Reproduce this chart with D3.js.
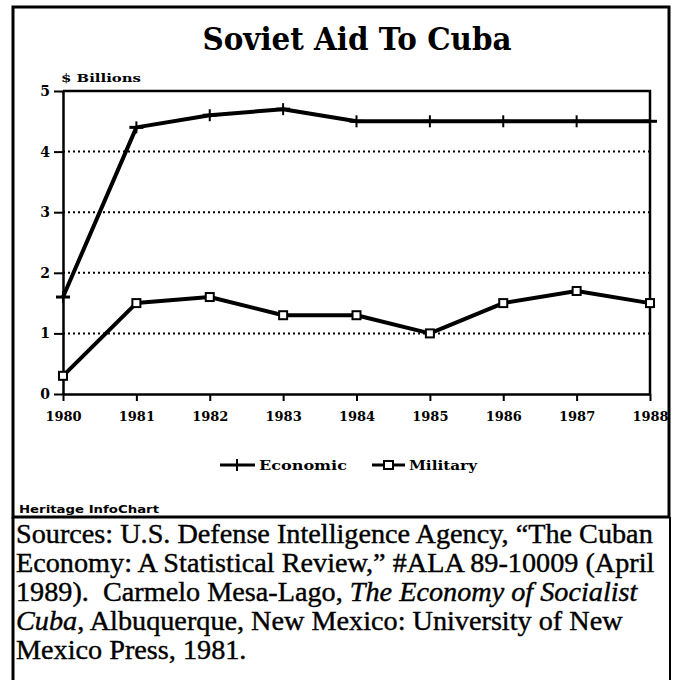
<!DOCTYPE html>
<html>
<head>
<style>
body { margin: 0; background: #fff; }
svg { display: block; }
.tick text { font-family: "DejaVu Serif", serif; font-weight: bold; }
</style>
<script src="https://d3js.org/d3.v7.min.js"></script>
</head>
<body>
<svg width="673" height="680"></svg>
<script>
// values, $ billions
var years = [1980, 1981, 1982, 1983, 1984, 1985, 1986, 1987, 1988];
var economic = [1.6, 4.4, 4.6, 4.7, 4.5, 4.5, 4.5, 4.5, 4.5];
var military = [0.3, 1.5, 1.6, 1.3, 1.3, 1.0, 1.5, 1.7, 1.5];
var yTicks = [0, 1, 2, 3, 4, 5];
var seriesNames = ["Economic", "Military"];

var titleText = "Soviet Aid To Cuba";
var unitText = "$ Billions";
var creditText = "Heritage InfoChart";
var sourceLines = [
  [["Sources: U.S. Defense Intelligence Agency, \u201cThe Cuban", false]],
  [["Economy: A Statistical Review,\u201d #ALA 89-10009 (April", false]],
  [["1989).  Carmelo Mesa-Lago, ", false], ["The Economy of Socialist", true]],
  [["Cuba", true], [", Albuquerque, New Mexico: University of New", false]],
  [["Mexico Press, 1981.", false]]
];

var svg = d3.select("svg");

var x = d3.scaleLinear().domain([1980, 1988]).range([63, 650]);
var y = d3.scaleLinear().domain([0, 5]).range([394, 91]);

// outer frame
svg.append("rect")
  .attr("x", 13).attr("y", 7)
  .attr("width", 656).attr("height", 510)
  .attr("fill", "none").attr("stroke", "#000").attr("stroke-width", 3);
svg.append("line").attr("x1", 13).attr("x2", 13).attr("y1", 517).attr("y2", 680)
  .attr("stroke", "#000").attr("stroke-width", 3);
svg.append("line").attr("x1", 670).attr("x2", 670).attr("y1", 517).attr("y2", 680)
  .attr("stroke", "#000").attr("stroke-width", 2);

// title
svg.append("text")
  .attr("x", 357).attr("y", 50)
  .attr("text-anchor", "middle")
  .attr("font-family", "DejaVu Serif")
  .attr("font-weight", "bold")
  .attr("font-size", 31)
  .attr("textLength", 309)
  .attr("lengthAdjust", "spacingAndGlyphs")
  .text(titleText);

svg.append("text")
  .attr("x", 61).attr("y", 82)
  .attr("font-family", "DejaVu Serif").attr("font-weight", "bold")
  .attr("font-size", 11)
  .attr("textLength", 80).attr("lengthAdjust", "spacingAndGlyphs")
  .text(unitText);

// dotted grid
svg.append("g").selectAll("line")
  .data(yTicks.filter(function(d) { return d > 0 && d < 5; }))
  .enter().append("line")
  .attr("x1", x(1980)).attr("x2", x(1988))
  .attr("y1", function(d) { return y(d); })
  .attr("y2", function(d) { return y(d); })
  .attr("stroke", "#000").attr("stroke-width", 2)
  .attr("stroke-dasharray", "2,3");

// plot box top and right
svg.append("path")
  .attr("d", "M" + x(1980) + "," + y(5) + "H" + x(1988) + "V" + y(0))
  .attr("fill", "none").attr("stroke", "#000").attr("stroke-width", 2.5);

var yAxis = d3.axisLeft(y).tickValues(yTicks).tickSize(9).tickPadding(4).tickSizeOuter(0)
  .tickFormat(d3.format("d"));
var gy = svg.append("g").attr("transform", "translate(" + x(1980) + ",0)").call(yAxis);
gy.selectAll("text").attr("font-size", 14);

var xAxis = d3.axisBottom(x).tickValues(years).tickSize(7).tickPadding(11).tickSizeOuter(0)
  .tickFormat(d3.format("d"));
var gx = svg.append("g").attr("transform", "translate(0," + y(0) + ")").call(xAxis);
gx.selectAll("text").attr("font-size", 13);

svg.selectAll(".domain").attr("stroke-width", 2.5);
svg.selectAll(".tick line").attr("stroke-width", 2);

// series
var econPts = years.map(function(d, i) { return [d, economic[i]]; });
var milPts = years.map(function(d, i) { return [d, military[i]]; });

var line = d3.line()
  .x(function(d) { return x(d[0]); })
  .y(function(d) { return y(d[1]); });

svg.append("path").attr("d", line(econPts))
  .attr("fill", "none").attr("stroke", "#000").attr("stroke-width", 4)
  .attr("stroke-linejoin", "round");
svg.append("path").attr("d", line(milPts))
  .attr("fill", "none").attr("stroke", "#000").attr("stroke-width", 4)
  .attr("stroke-linejoin", "round");

// plus markers
var plus = svg.append("g").selectAll("g").data(econPts).enter().append("g")
  .attr("transform", function(d) { return "translate(" + x(d[0]) + "," + y(d[1]) + ")"; });
plus.append("line").attr("x1", 0).attr("x2", 0).attr("y1", -6).attr("y2", 6)
  .attr("stroke", "#000").attr("stroke-width", 2);
plus.append("line").attr("x1", -7).attr("x2", 7).attr("y1", 0).attr("y2", 0)
  .attr("stroke", "#000").attr("stroke-width", 3);

// square markers
svg.append("g").selectAll("rect").data(milPts).enter().append("rect")
  .attr("x", function(d) { return x(d[0]) - 4; })
  .attr("y", function(d) { return y(d[1]) - 4; })
  .attr("width", 8).attr("height", 8)
  .attr("fill", "#fff").attr("stroke", "#000").attr("stroke-width", 2);

// legend
var lg = svg.append("g");
lg.append("line").attr("x1", 220).attr("x2", 255).attr("y1", 465).attr("y2", 465)
  .attr("stroke", "#000").attr("stroke-width", 3);
lg.append("line").attr("x1", 237).attr("x2", 237).attr("y1", 459).attr("y2", 471)
  .attr("stroke", "#000").attr("stroke-width", 2);
lg.append("text").attr("x", 259).attr("y", 470)
  .attr("font-family", "DejaVu Serif").attr("font-weight", "bold").attr("font-size", 13)
  .attr("textLength", 88).attr("lengthAdjust", "spacingAndGlyphs")
  .text(seriesNames[0]);
lg.append("line").attr("x1", 372).attr("x2", 405).attr("y1", 465).attr("y2", 465)
  .attr("stroke", "#000").attr("stroke-width", 3);
lg.append("rect").attr("x", 384).attr("y", 461).attr("width", 9).attr("height", 8)
  .attr("fill", "#fff").attr("stroke", "#000").attr("stroke-width", 2);
lg.append("text").attr("x", 409).attr("y", 470)
  .attr("font-family", "DejaVu Serif").attr("font-weight", "bold").attr("font-size", 13)
  .attr("textLength", 68).attr("lengthAdjust", "spacingAndGlyphs")
  .text(seriesNames[1]);

// credit + sources box
svg.append("text").attr("x", 19).attr("y", 513)
  .attr("font-family", "DejaVu Sans").attr("font-weight", "bold").attr("font-size", 10)
  .attr("textLength", 140).attr("lengthAdjust", "spacingAndGlyphs")
  .text(creditText);

var src = svg.append("g");
var rows = src.selectAll("text").data(sourceLines).enter().append("text")
  .attr("x", 0)
  .attr("y", function(d, i) { return 543 + i * 29; })
  .attr("font-family", "Times New Roman, serif")
  .attr("font-size", 27)
  .attr("stroke", "#000").attr("stroke-width", 0.4);
rows.selectAll("tspan").data(function(d) { return d; }).enter().append("tspan")
  .attr("font-style", function(d) { return d[1] ? "italic" : "normal"; })
  .attr("xml:space", "preserve")
  .text(function(d) { return d[0]; });
var w = rows.node().getComputedTextLength();
src.attr("transform", "translate(16,0) scale(" + (637 / w) + ",1)");
</script>
</body>
</html>
